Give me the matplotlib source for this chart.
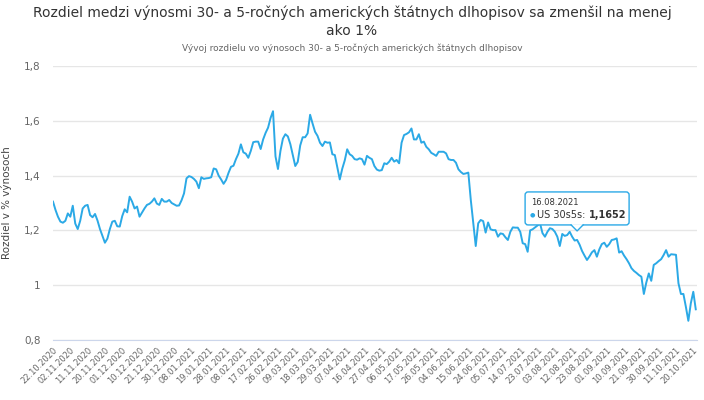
import matplotlib
matplotlib.use("Agg")
import matplotlib.pyplot as plt
import pandas as pd
from matplotlib.transforms import Affine2D, ScaledTranslation
from matplotlib.patches import FancyBboxPatch, Polygon
from matplotlib.lines import Line2D
from matplotlib.ticker import FuncFormatter

plt.rcParams['font.family'] = ['DejaVu Sans']

title = ("Rozdiel medzi výnosmi 30- a 5-ročných amerických štátnych dlhopisov sa zmenšil na menej\n"
         "ako 1%")
subtitle = "Vývoj rozdielu vo výnosoch 30- a 5-ročných amerických štátnych dlhopisov"
y_label = "Rozdiel v % výnosoch"
series_name = "US 30s5s"

# pracovne dni 22.10.2020 - 21.10.2021
dates = pd.bdate_range("2020-10-22", "2021-10-21")

spread = [
    1.305, 1.275, 1.25, 1.232, 1.228, 1.235, 1.262, 1.25, 1.29, 1.225,
    1.205, 1.235, 1.28, 1.29, 1.293, 1.256, 1.248, 1.26, 1.236, 1.205,
    1.18, 1.155, 1.17, 1.205, 1.232, 1.235, 1.215, 1.214, 1.252, 1.277,
    1.266, 1.323, 1.305, 1.28, 1.287, 1.25, 1.265, 1.28, 1.293, 1.297,
    1.305, 1.317, 1.298, 1.293, 1.315, 1.305, 1.305, 1.311, 1.30, 1.295,
    1.29, 1.291, 1.31, 1.335, 1.39, 1.398, 1.395, 1.388, 1.378, 1.354,
    1.394, 1.388, 1.39, 1.391, 1.394, 1.426, 1.423, 1.40, 1.386, 1.37,
    1.384, 1.41, 1.432, 1.436, 1.46, 1.48, 1.514, 1.485, 1.48, 1.465,
    1.49, 1.522, 1.524, 1.524, 1.497, 1.532, 1.556, 1.575, 1.61, 1.635,
    1.47, 1.424, 1.49, 1.535, 1.551, 1.543, 1.515, 1.475, 1.435, 1.45,
    1.51, 1.54, 1.54, 1.554, 1.622, 1.59, 1.56, 1.545, 1.52, 1.508,
    1.524, 1.52, 1.521, 1.478, 1.475, 1.43, 1.386, 1.425, 1.455, 1.496,
    1.478, 1.472, 1.46, 1.458, 1.463, 1.46, 1.44, 1.472, 1.465, 1.46,
    1.435, 1.422, 1.418, 1.42, 1.445, 1.442, 1.451, 1.465, 1.451, 1.457,
    1.445, 1.52, 1.548, 1.552, 1.558, 1.572, 1.532, 1.532, 1.551, 1.52,
    1.524, 1.505, 1.496, 1.483, 1.478, 1.472, 1.487, 1.487, 1.487, 1.481,
    1.46, 1.457, 1.457, 1.447, 1.423, 1.413, 1.406, 1.408, 1.411, 1.311,
    1.226, 1.143, 1.226, 1.238, 1.234, 1.192, 1.229, 1.204, 1.201, 1.201,
    1.177, 1.189, 1.187, 1.175, 1.165, 1.195, 1.211, 1.21, 1.21, 1.195,
    1.153, 1.15, 1.122, 1.2, 1.204, 1.211, 1.218, 1.226, 1.19, 1.177,
    1.195, 1.208, 1.205, 1.195, 1.177, 1.143, 1.187, 1.18, 1.183, 1.195,
    1.177, 1.163, 1.1652, 1.148, 1.125, 1.108, 1.092, 1.105, 1.12, 1.128,
    1.104, 1.131, 1.15, 1.155, 1.14, 1.15, 1.165, 1.167, 1.171, 1.119,
    1.124, 1.108, 1.095, 1.08, 1.062, 1.052, 1.045, 1.037, 1.031, 0.968,
    1.01, 1.043, 1.016, 1.074, 1.08, 1.088, 1.095, 1.11, 1.128, 1.104,
    1.113, 1.112, 1.111, 1.007, 0.968, 0.968, 0.921, 0.87, 0.934, 0.976,
    0.912,
]

y_ticks = [0.8, 1.0, 1.2, 1.4, 1.6, 1.8]
hover_idx = 212  # 16.08.2021

line_color = "#2ba9e6"

fig = plt.figure(figsize=(7.04, 4), dpi=100)
ax = fig.add_axes([53 / 704, 60 / 400, 644 / 704, 274 / 400])

x = list(range(len(spread)))
ax.plot(x, spread, color=line_color, lw=1.4, solid_joinstyle="round")

ax.set_xlim(0, len(spread) - 0.5)
ax.set_ylim(y_ticks[0], y_ticks[-1])
ax.set_yticks(y_ticks)
ax.yaxis.set_major_formatter(FuncFormatter(lambda v, p: ("%g" % round(v, 1)).replace(".", ",")))
ax.grid(axis="y", color="#e6e6e6", lw=1)
ax.set_axisbelow(True)
for s in ["top", "right", "left"]:
    ax.spines[s].set_visible(False)
ax.spines["bottom"].set_color("#ccd6eb")
ax.tick_params(axis="y", length=0, pad=9, labelsize=7.5, labelcolor="#666666")

ticks = list(range(0, len(dates), 7))
ax.set_xticks(ticks)
ax.set_xticklabels([dates[i].strftime("%d.%m.%Y") for i in ticks], rotation=45,
                   ha="right", va="top", rotation_mode="anchor", fontsize=6, color="#666666")
ax.tick_params(axis="x", length=0, pad=4)

ax.set_ylabel(y_label, fontsize=7.5, color="#444444")
ax.yaxis.set_label_coords(-41 / 644, 0.5)

fig.text(0.5, 1 - 5 / 400, title, ha="center", va="top", fontsize=10, color="#333333",
         linespacing=1.4)
fig.text(0.5, 1 - 48 / 400, subtitle, ha="center", va="center", fontsize=6.5, color="#666666")

# tooltip
v = spread[hover_idx]
tr = Affine2D() + ScaledTranslation(hover_idx, v, ax.transData)
box = FancyBboxPatch((-52, 15), 104, 33, boxstyle="round,pad=0,rounding_size=3",
                     transform=tr, fc="white", ec=line_color, lw=1, zorder=5, clip_on=False)
ax.add_patch(box)
ax.add_patch(Polygon([(-6, 15.8), (0, 9), (6, 15.8)], closed=True, transform=tr,
                     fc="white", ec="none", zorder=6, clip_on=False))
ax.add_line(Line2D([-6, 0, 6], [15, 9, 15], transform=tr, color=line_color, lw=1,
                   zorder=7, clip_on=False))
ax.text(-46, 37, dates[hover_idx].strftime("%d.%m.%Y"), transform=tr, fontsize=6,
        color="#333333", va="center", ha="left", zorder=8)
ax.text(-47, 25, "●", transform=tr, fontsize=4.5, color=line_color, va="center", ha="left", zorder=8)
lab = ax.text(-40, 25, series_name + ": ", transform=tr, fontsize=7, color="#333333",
              va="center", ha="left", zorder=8)
ax.annotate(("%.4f" % v).replace(".", ","), xy=(1, 0), xycoords=lab, va="bottom", ha="left",
            fontsize=7, fontweight="bold", color="#333333", zorder=8)

fig.savefig("out.png", dpi=100)
